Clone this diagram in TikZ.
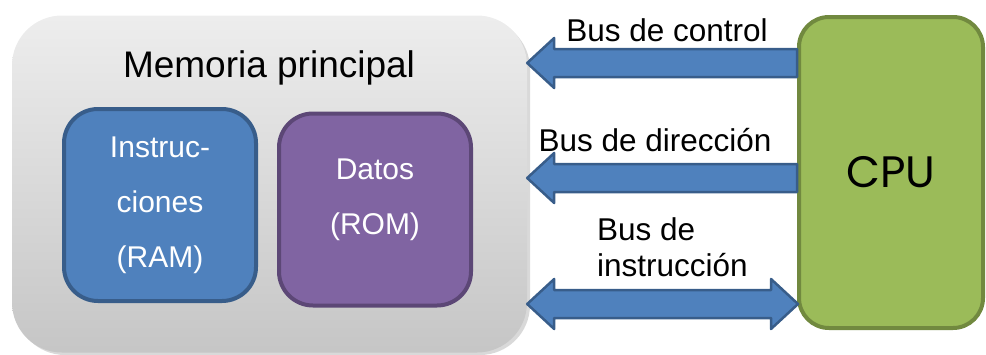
\documentclass[tikz,border=0pt]{standalone}
\usepackage{fontspec}
\setmainfont{Liberation Sans}
\newfontfamily\cpufont{Poppins}
\usepackage{xcolor}
\usetikzlibrary{calc}
\definecolor{busblue}{HTML}{4F81BD}
\definecolor{busedge}{HTML}{385D8A}
\definecolor{romfill}{HTML}{8064A2}
\definecolor{romedge}{HTML}{5C4776}
\definecolor{cpufill}{HTML}{9BBB59}
\definecolor{cpuedge}{HTML}{71893F}

\tikzset{
    membox/.style={rounded corners=50pt, top color=gray!14, bottom color=gray!45, minimum width=515pt, minimum height=337pt},
    unitbox/.style={draw, line width=4pt, rounded corners=34pt, minimum width=192pt, minimum height=192pt},
    unittext/.style={text=white, align=center, font=\fontsize{30}{55}\selectfont},
    buslabel/.style={font=\fontsize{31.5}{36}\selectfont, inner sep=0pt},
    bus/.style={fill=busblue, draw=busedge, line width=2.5pt, line join=round}
}

% block arrow with a head at the memory side, #1 = y of its axis
\newcommand{\busleft}[1]{
    \path (mem.east |- 0,#1) coordinate (t) (cpu.west |- 0,#1) coordinate (e);
    \filldraw[bus] (t) -- ($(t)+(27,-25)$) -- ($(t)+(27,-14)$) -- ($(e)+(0,-14)$)
        -- ($(e)+(0,14)$) -- ($(t)+(27,14)$) -- ($(t)+(27,25)$) -- cycle;
}

\begin{document}
\begin{tikzpicture}[x=1pt, y=-1pt]
    \useasboundingbox (0,0) rectangle (986,354);
    % main memory
    \fill[gray!30, rounded corners=50pt] (15,19) rectangle (530,355);
    \node[membox] (mem) at (269.5,184) {};
    \node[font=\fontsize{37}{44}\selectfont] (title) at (269,68) {Memoria principal};
    \node[unitbox, fill=busblue, draw=busedge] (ram) at (160,205) {};
    \node[unitbox, fill=romfill, draw=romedge] (rom) at (375,209.5) {};
    \node[unittext] (ramtxt) at (ram) {Instruc-\\ciones\\(RAM)};
    \node[unittext] (romtxt) at (375,200) {Datos\\(ROM)};
    % processor
    \node[draw=cpuedge, fill=cpufill, line width=4pt, rounded corners=30pt, minimum width=184pt, minimum height=311pt,
        font=\cpufont\fontsize{44}{50}\selectfont] (cpu) at (891,172.5) {CPU};
    % buses
    \busleft{63}
    \busleft{178}
    \path (mem.east |- 0,304) coordinate (t) (cpu.west |- 0,304) coordinate (e);
    \filldraw[bus] (t) -- ($(t)+(27,-25)$) -- ($(t)+(27,-14)$) -- ($(e)+(-26,-14)$) -- ($(e)+(-26,-25)$)
        -- ($(e)+(1,0)$) -- ($(e)+(-26,25)$) -- ($(e)+(-26,14)$) -- ($(t)+(27,14)$) -- ($(t)+(27,25)$) -- cycle;
    \node[buslabel] (ctl) at (667,30) {Bus de control};
    \node[buslabel] (dir) at (655,140) {Bus de dirección};
    \node[buslabel, align=left, anchor=west] (ins) at (597,247) {Bus de\\instrucción};
\end{tikzpicture}
\end{document}
